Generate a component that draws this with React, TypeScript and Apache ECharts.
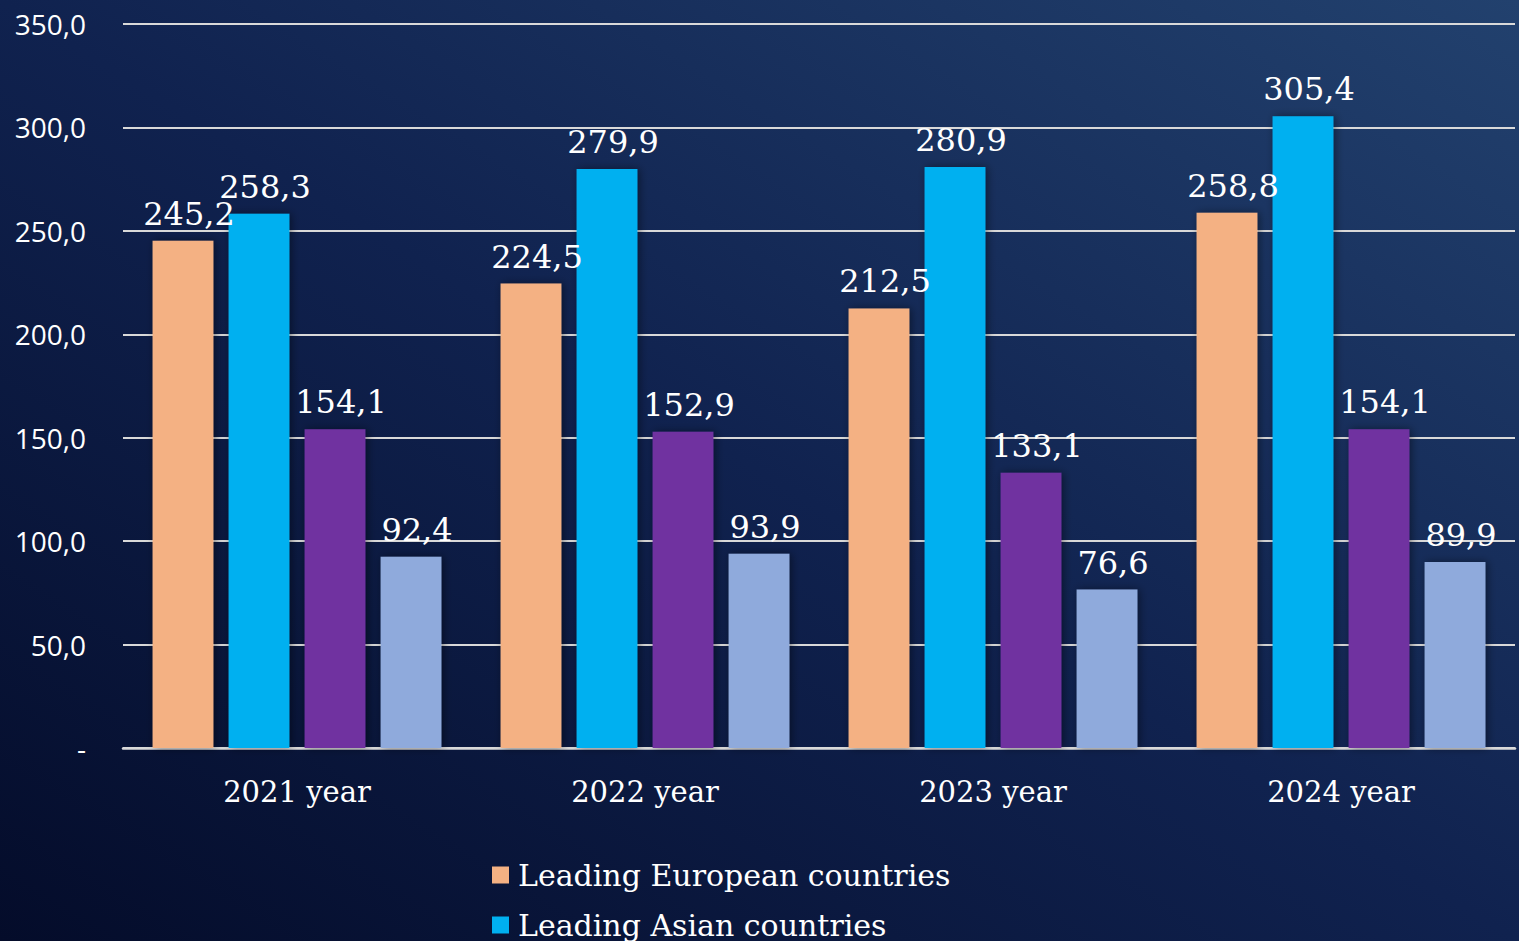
import React, { useEffect, useRef } from "react";
import * as echarts from "echarts";

const categories = ["2021 year", "2022 year", "2023 year", "2024 year"];
const seriesNames = [
  "Leading European countries",
  "Leading Asian countries",
  "Series 3",
  "Series 4",
];
const europeValues = [245.2, 224.5, 212.5, 258.8];
const asiaValues = [258.3, 279.9, 280.9, 305.4];
const series3Values = [154.1, 152.9, 133.1, 154.1];
const series4Values = [92.4, 93.9, 76.6, 89.9];
const seriesColors = ["#F4B183", "#00B0F0", "#7030A0", "#8FAADC"];
const yTicks = [0, 50, 100, 150, 200, 250, 300, 350];

const fmt = (v: number) => (v === 0 ? "-" : v.toFixed(1).replace(".", ","));

export default function App() {
  const ref = useRef<HTMLDivElement>(null);
  useEffect(() => {
    document.body.style.margin = "0";
    const chart = echarts.init(ref.current!, null, { renderer: "svg" });
    const allValues = [europeValues, asiaValues, series3Values, series4Values];
    chart.setOption({
      animation: false,
      backgroundColor: new echarts.graphic.LinearGradient(0, 1, 1, 0, [
        { offset: 0, color: "#040c2a" },
        { offset: 0.5, color: "#10224f" },
        { offset: 1, color: "#22416e" },
      ]),
      grid: { left: 123, right: 4, top: 24, bottom: 193 },
      legend: {
        data: [seriesNames[0], seriesNames[1]],
        orient: "vertical",
        left: 492,
        top: 858,
        height: 300,
        padding: 0,
        itemWidth: 17,
        itemHeight: 17,
        itemGap: 16,
        icon: "rect",
        textStyle: {
          color: "#ffffff",
          fontFamily: "DejaVu Serif",
          fontSize: 30,
          lineHeight: 34,
          padding: [0, 0, 0, 4],
        },
      },
      xAxis: {
        type: "category",
        data: categories,
        axisLine: { show: true, lineStyle: { color: "#d9d9d9", width: 2.5 } },
        axisTick: { show: false },
        axisLabel: {
          color: "#ffffff",
          fontFamily: "DejaVu Serif",
          fontSize: 29,
          margin: 29,
        },
      },
      yAxis: {
        type: "value",
        min: yTicks[0],
        max: yTicks[yTicks.length - 1],
        interval: 50,
        axisLine: { show: false },
        axisTick: { show: false },
        splitLine: { lineStyle: { color: "#d9d9d9", width: 2 } },
        axisLabel: {
          color: "#ffffff",
          fontFamily: "Open Sans",
          fontSize: 28,
          margin: 37,
          formatter: (v: number) => fmt(v),
        },
      },
      series: allValues.map((vals, i) => ({
        name: seriesNames[i],
        type: "bar",
        data: vals,
        barGap: "25%",
        barCategoryGap: "17%",
        itemStyle: {
          color: seriesColors[i],
          shadowColor: "rgba(0,0,0,0.45)",
          shadowBlur: 8,
          shadowOffsetX: 2,
        },
        label: {
          show: true,
          position: "top",
          distance: 11,
          color: "#ffffff",
          fontFamily: "DejaVu Serif",
          fontSize: 32,
          offset: [6, 0],
          formatter: (p: any) => fmt(p.value),
        },
      })),
    });
    return () => chart.dispose();
  }, []);
  return <div ref={ref} style={{ width: 1519, height: 941 }} />;
}
